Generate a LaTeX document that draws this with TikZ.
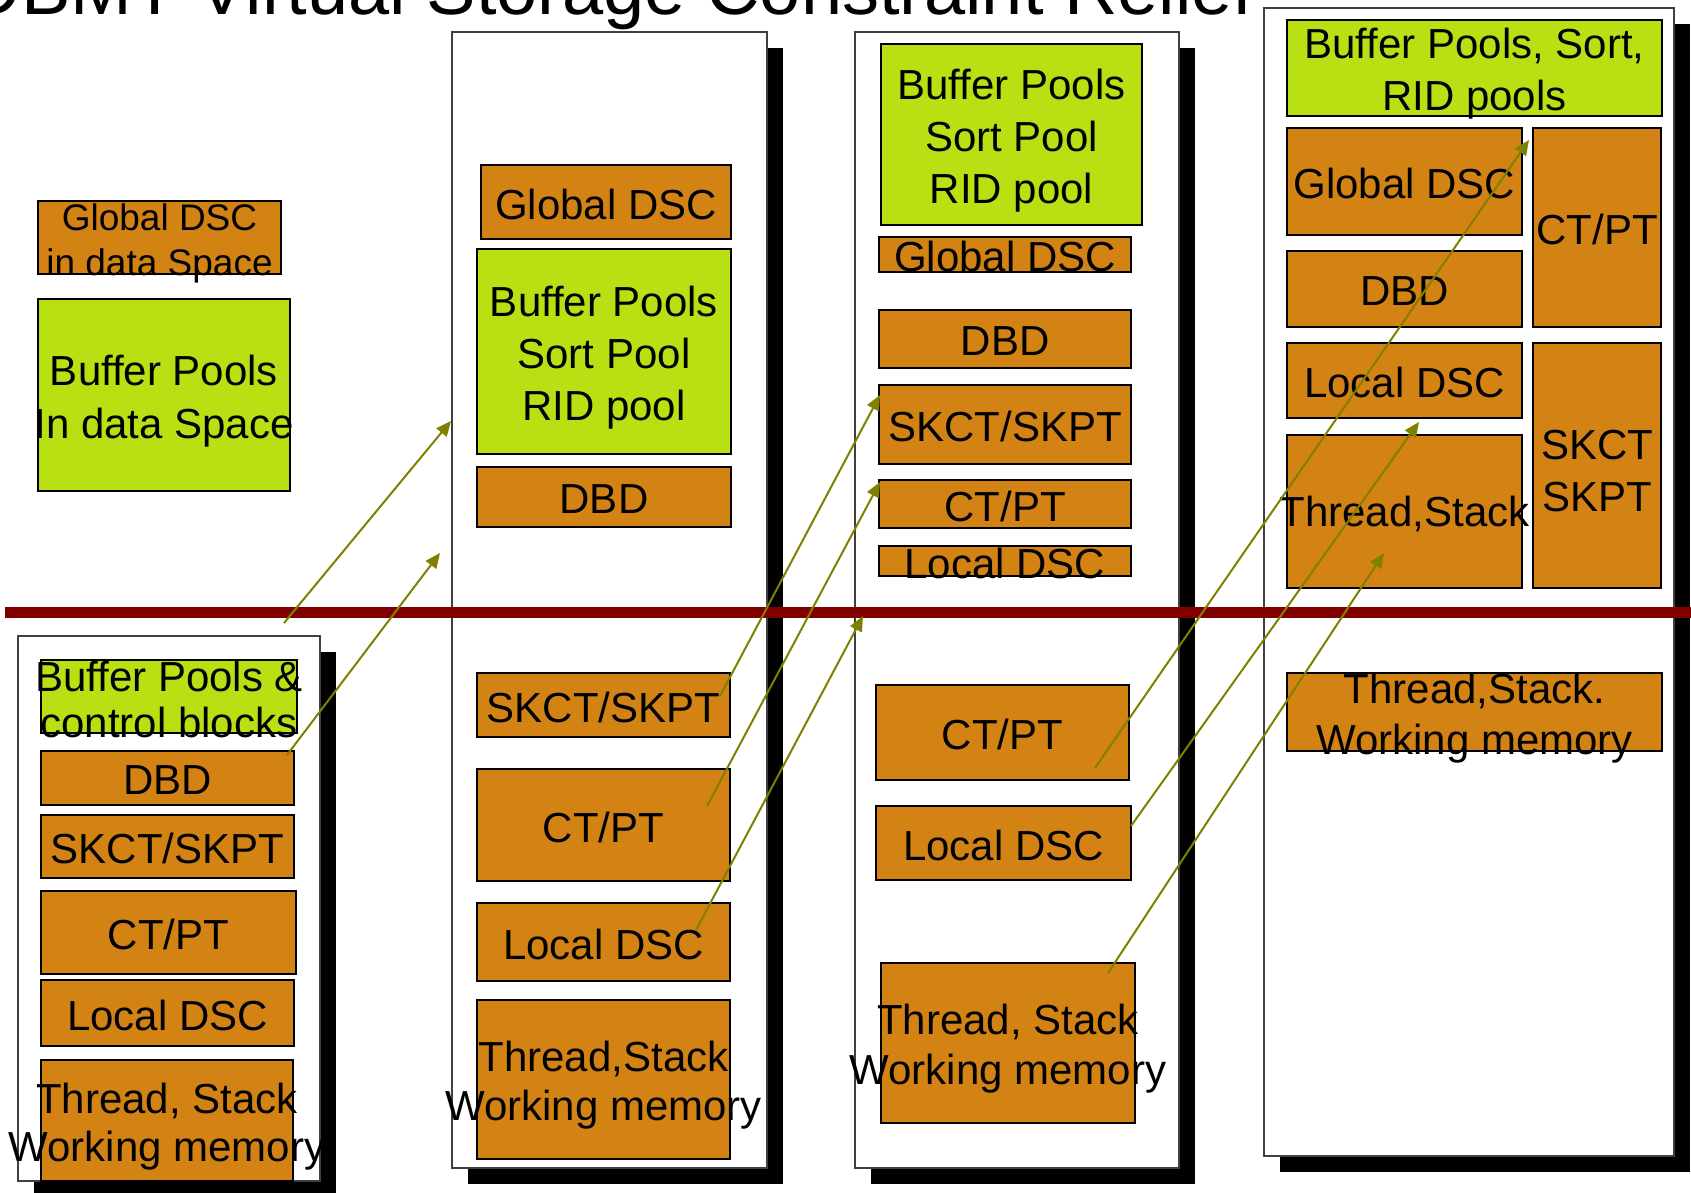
\documentclass[tikz,border=0pt]{standalone}
\usepackage{fontspec}
\setmainfont{Liberation Sans}
\usetikzlibrary{arrows.meta, shadows}

\definecolor{dscorange}{RGB}{211,130,20}
\definecolor{poolgreen}{RGB}{185,224,18}
\definecolor{linkolive}{RGB}{128,128,0}
\definecolor{splitred}{RGB}{128,0,0}
\definecolor{framegray}{RGB}{64,64,64}

\tikzset{
	frame/.style={draw=framegray, line width=1.2pt, fill=white, inner sep=0pt,
		drop shadow={shadow xshift=8pt, shadow yshift=-8pt, opacity=1, fill=black}},
	blk/.style={draw=black, line width=0.8pt, inner sep=0pt},
	dsc/.style={blk, fill=dscorange},
	pool/.style={blk, fill=poolgreen},
	txt/.style={inner sep=0pt, align=center, yshift=-1pt, font=\fontsize{21}{26}\selectfont},
	lines/.style={yshift=-2pt},
	link/.style={draw=linkolive, line width=1pt, -{Triangle[length=7.5pt,width=6.5pt]}},
}

% box from corner (x1,y1) to (x2,y2), text set on top of it
\newcommand{\blk}[8][]{%
	\node[#3, minimum width={(#6-#4)*0.5pt}, minimum height={(#7-#5)*0.5pt},
		label={[txt,#1]center:{#8}}] (#2) at ({(#4+#6)/2},{(#5+#7)/2}) {};}
\newcommand{\frm}[5]{%
	\node[frame, minimum width={(#4-#2)*0.5pt}, minimum height={(#5-#3)*0.5pt}]
		(#1) at ({(#2+#4)/2},{(#3+#5)/2}) {};}

\begin{document}
\begin{tikzpicture}[x=0.5pt, y=-0.5pt]
	\useasboundingbox (0,0) rectangle (1691,1193);
	\clip (0,0) rectangle (1691,1193);

	\frm{col1}{18}{636}{320}{1181}
	\frm{col2}{452}{32}{767}{1168}
	\frm{col3}{855}{32}{1179}{1168}
	\frm{col4}{1264}{8}{1674}{1156}

	\draw[splitred, line width=5.5pt] (5,612) -- (1691,612);

	\blk[lines, font=\fontsize{18.5}{22.5}\selectfont]{gdsc1}{dsc}{38}{201}{281}{274}{Global DSC\\in data Space}
	\blk[lines, font=\fontsize{21}{26.5}\selectfont]{bp1}{pool}{38}{299}{290}{491}{Buffer Pools\\In data Space}

	\blk[yshift=-0.5pt, font=\fontsize{21}{23}\selectfont]{bpc1}{pool}{41}{660}{297}{733}{Buffer Pools \&\\control blocks}
	\blk{dbd1}{dsc}{41}{751}{294}{805}{DBD}
	\blk{skct1}{dsc}{41}{815}{294}{878}{SKCT/SKPT}
	\blk{ctpt1}{dsc}{41}{891}{296}{974}{CT/PT}
	\blk{ldsc1}{dsc}{41}{980}{294}{1046}{Local DSC}
	\blk[lines, font=\fontsize{21}{24}\selectfont]{thr1}{dsc}{41}{1060}{293}{1181}{Thread, Stack\\Working memory}

	\blk{gdsc2}{dsc}{481}{165}{731}{239}{Global DSC}
	\blk[lines]{bp2}{pool}{477}{249}{731}{454}{Buffer Pools\\Sort Pool\\RID pool}
	\blk{dbd2}{dsc}{477}{467}{731}{527}{DBD}
	\blk{skct2}{dsc}{477}{673}{730}{737}{SKCT/SKPT}
	\blk{ctpt2}{dsc}{477}{769}{730}{881}{CT/PT}
	\blk{ldsc2}{dsc}{477}{903}{730}{981}{Local DSC}
	\blk[lines, font=\fontsize{21}{24.5}\selectfont]{thr2}{dsc}{477}{1000}{730}{1159}{Thread,Stack\\Working memory}

	\blk[lines]{bp3}{pool}{881}{44}{1142}{225}{Buffer Pools\\Sort Pool\\RID pool}
	\blk{gdsc3}{dsc}{879}{237}{1131}{272}{Global DSC}
	\blk{dbd3}{dsc}{879}{310}{1131}{368}{DBD}
	\blk{skct3}{dsc}{879}{385}{1131}{464}{SKCT/SKPT}
	\blk{ctpt3}{dsc}{879}{480}{1131}{528}{CT/PT}
	\blk{ldsc3}{dsc}{879}{546}{1131}{576}{Local DSC}
	\blk{ctpt3b}{dsc}{876}{685}{1129}{780}{CT/PT}
	\blk{ldsc3b}{dsc}{876}{806}{1131}{880}{Local DSC}
	\blk[lines, font=\fontsize{21}{25}\selectfont]{thr3}{dsc}{881}{963}{1135}{1123}{Thread, Stack\\Working memory}

	\blk[lines]{bp4}{pool}{1287}{20}{1662}{116}{Buffer Pools, Sort,\\RID pools}
	\blk{gdsc4}{dsc}{1287}{128}{1522}{235}{Global DSC}
	\blk{ctpt4}{dsc}{1533}{128}{1661}{327}{CT/PT}
	\blk{dbd4}{dsc}{1287}{251}{1522}{327}{DBD}
	\blk{ldsc4}{dsc}{1287}{343}{1522}{418}{Local DSC}
	\blk[lines]{skct4}{dsc}{1533}{343}{1661}{588}{SKCT\\SKPT}
	\blk{thr4}{dsc}{1287}{435}{1522}{588}{Thread,Stack}
	\blk[lines, font=\fontsize{21}{25.5}\selectfont]{thr4b}{dsc}{1287}{673}{1662}{751}{Thread,Stack.\\Working memory}

	\node[anchor=base east, inner sep=0pt, font=\fontsize{37}{44}\selectfont] (title) at (1254,15)
		{DBMT Virtual Storage Constraint Relief};

	\coordinate (fromsplit) at (284,623);  \coordinate (tocol2) at (451,421);
	\coordinate (fromdbd1) at (287,755);   \coordinate (tocol2b) at (440,553);
	\coordinate (fromskct2) at (720,696);  \coordinate (toskct3) at (880,395);
	\coordinate (fromctpt2) at (707,806);  \coordinate (toctpt3) at (880,482);
	\coordinate (fromldsc2) at (696,930);  \coordinate (tocol3) at (863,616);
	\coordinate (fromctpt3) at (1095,768); \coordinate (togdsc4) at (1529,140);
	\coordinate (fromldsc3) at (1131,826); \coordinate (toldsc4) at (1419,422);
	\coordinate (fromthr3) at (1108,973);  \coordinate (tothr4) at (1384,553);

	\draw[link] (fromsplit) -- (tocol2);
	\draw[link] (fromdbd1) -- (tocol2b);
	\draw[link] (fromskct2) -- (toskct3);
	\draw[link] (fromctpt2) -- (toctpt3);
	\draw[link] (fromldsc2) -- (tocol3);
	\draw[link] (fromctpt3) -- (togdsc4);
	\draw[link] (fromldsc3) -- (toldsc4);
	\draw[link] (fromthr3) -- (tothr4);
\end{tikzpicture}
\end{document}
